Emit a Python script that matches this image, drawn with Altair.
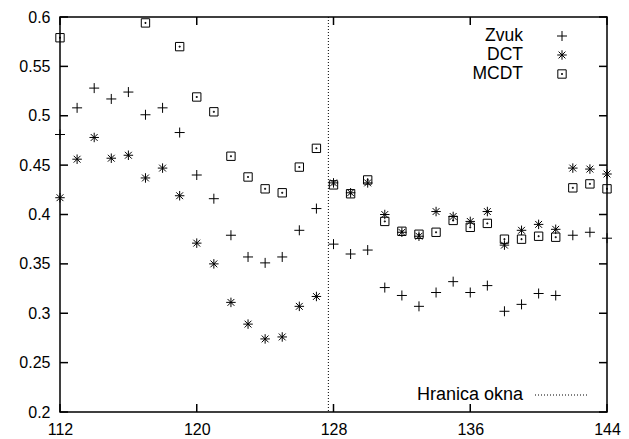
import altair as alt
import pandas as pd

# ---- data ----
x_all = list(range(112, 145))
zvuk = [0.481, 0.508, 0.528, 0.517, 0.524, 0.501, 0.508, 0.483, 0.440, 0.416,
        0.379, 0.357, 0.351, 0.357, 0.384, 0.406, 0.370, 0.360, 0.364, 0.326,
        0.318, 0.307, 0.321, 0.332, 0.321, 0.328, 0.302, 0.309, 0.320, 0.318,
        0.379, 0.382, 0.376]
dct = [0.417, 0.456, 0.478, 0.457, 0.460, 0.437, 0.447, 0.419, 0.371, 0.350,
       0.311, 0.289, 0.274, 0.276, 0.307, 0.317, 0.432, 0.422, 0.432, 0.400,
       0.382, 0.378, 0.403, 0.398, 0.393, 0.403, 0.369, 0.384, 0.390, 0.385,
       0.447, 0.446, 0.441]
mcdt_x = [112, 117, 119, 120, 121, 122, 123, 124, 125, 126, 127, 128, 129, 130,
          131, 132, 133, 134, 135, 136, 137, 138, 139, 140, 141, 142, 143, 144]
mcdt = [0.579, 0.594, 0.570, 0.519, 0.504, 0.459, 0.438, 0.426, 0.422, 0.448,
        0.467, 0.430, 0.421, 0.435, 0.393, 0.383, 0.380, 0.382, 0.394, 0.387,
        0.391, 0.375, 0.375, 0.378, 0.377, 0.427, 0.431, 0.426]
boundary = [127.7]
x_ticks = [112, 120, 128, 136, 144]
y_ticks = [0.2, 0.25, 0.3, 0.35, 0.4, 0.45, 0.5, 0.55, 0.6]
series_names = ["Zvuk", "DCT", "MCDT"]
boundary_label = "Hranica okna"

W, H = 547, 395
FONT = "Liberation Sans"

PLUS = "M-1,0H1M0,-1V1"
STAR = "M-1,0H1M0,-1V1M-0.72,-0.72L0.72,0.72M-0.72,0.72L0.72,-0.72"
BOX = "M-1,-1H1V1H-1ZM-0.12,-0.12H0.12V0.12H-0.12Z"

df_z = pd.DataFrame({"x": x_all, "y": zvuk})
df_d = pd.DataFrame({"x": x_all, "y": dct})
df_m = pd.DataFrame({"x": mcdt_x, "y": mcdt})

xscale = alt.Scale(domain=[112, 144], nice=False, zero=False)
yscale = alt.Scale(domain=[0.2, 0.6], nice=False, zero=False)

X = alt.X("x:Q", scale=xscale,
          axis=alt.Axis(values=x_ticks, title=None, labelPadding=9, format="d",
                        labelFlush=False))
Y = alt.Y("y:Q", scale=yscale,
          axis=alt.Axis(values=y_ticks, title=None, labelPadding=10, format="~g",
                        labelFlush=False))


def pts(df, shape, size):
    return alt.Chart(df).mark_point(shape=shape, filled=False, stroke="black",
                                    strokeWidth=1, size=size, opacity=1).encode(x=X, y=Y)


# inward ticks
xt = pd.DataFrame({"x": x_ticks})
yt = pd.DataFrame({"y": y_ticks})
tick_b = alt.Chart(xt).mark_rule(color="black", strokeWidth=1.5).encode(
    x=alt.X("x:Q", scale=xscale), y=alt.value(H), y2=alt.value(H - 8))
tick_t = alt.Chart(xt).mark_rule(color="black", strokeWidth=1.5).encode(
    x=alt.X("x:Q", scale=xscale), y=alt.value(0), y2=alt.value(8))
tick_l = alt.Chart(yt).mark_rule(color="black", strokeWidth=1.5).encode(
    y=alt.Y("y:Q", scale=yscale), x=alt.value(0), x2=alt.value(8))
tick_r = alt.Chart(yt).mark_rule(color="black", strokeWidth=1.5).encode(
    y=alt.Y("y:Q", scale=yscale), x=alt.value(W), x2=alt.value(W - 8))

bnd = alt.Chart(pd.DataFrame({"x": boundary})).mark_rule(
    color="black", strokeWidth=1, strokeDash=[1, 2]).encode(
    x=alt.X("x:Q", scale=xscale), y=alt.value(0), y2=alt.value(H))

# legend
leg_rows = [19, 38, 57]
leg_text = alt.layer(*[
    alt.Chart(pd.DataFrame({"t": [n]})).mark_text(
        align="right", baseline="middle", font=FONT, fontSize=17.5, color="black").encode(
        text="t:N", x=alt.value(463), y=alt.value(yy))
    for n, yy in zip(series_names, leg_rows)
])
leg_syms = alt.layer(*[
    alt.Chart(pd.DataFrame({"t": [n]})).mark_point(
        shape=s, filled=False, stroke="black", strokeWidth=1, size=sz, opacity=1).encode(
        x=alt.value(502), y=alt.value(yy))
    for n, s, sz, yy in zip(series_names, [PLUS, STAR, BOX], [100, 90, 70], leg_rows)
])
leg_b_text = alt.Chart(pd.DataFrame({"t": [boundary_label]})).mark_text(
    align="right", baseline="middle", font=FONT, fontSize=18, color="black").encode(
    text="t:N", x=alt.value(463), y=alt.value(378))
leg_b_line = alt.Chart(pd.DataFrame({"t": [boundary_label]})).mark_rule(
    color="black", strokeWidth=1, strokeDash=[1, 2]).encode(
    x=alt.value(475), x2=alt.value(528), y=alt.value(378))

chart = alt.layer(
    bnd, tick_b, tick_t, tick_l, tick_r,
    pts(df_z, PLUS, 100), pts(df_d, STAR, 90), pts(df_m, BOX, 70),
    leg_text, leg_syms, leg_b_text, leg_b_line,
).properties(
    width=W, height=H,
    autosize=alt.AutoSizeParams(type="none"),
    padding={"left": 52, "top": 9, "right": 14, "bottom": 25},
).configure_axis(
    domain=False, ticks=False, tickSize=0, grid=False,
    labelFont=FONT, labelFontSize=16, labelColor="black",
).configure_view(
    stroke="black", strokeWidth=1.5
)

chart.save("out.html", embed_options={"renderer": "svg", "actions": False})
